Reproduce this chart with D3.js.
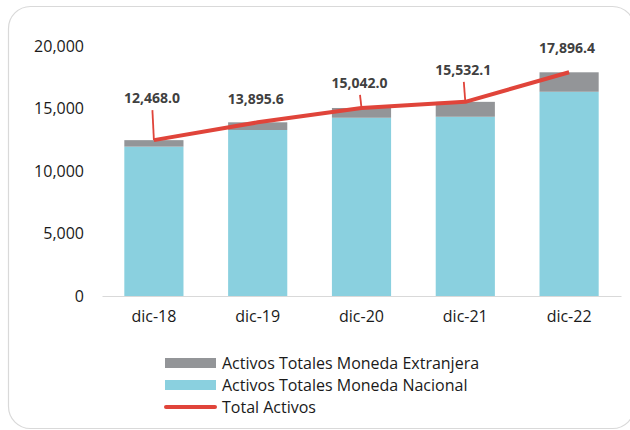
<!DOCTYPE html>
<html>
<head>
<meta charset="UTF-8">
<title>Activos Totales</title>
<script src="https://cdn.jsdelivr.net/npm/d3@7"></script>
<style type="text/css">
	body { margin:0; background:#fff; }
	text { font-family: "Open Sans", sans-serif; }
</style>
</head>
<body>
<script type="text/javascript">

// données
var categories = ['dic-18', 'dic-19', 'dic-20', 'dic-21', 'dic-22'];
var nacional   = [11950, 13280, 14260, 14340, 16340];
var extranjera = [518.0, 615.6, 782.0, 1192.1, 1556.4];
var total      = [12468.0, 13895.6, 15042.0, 15532.1, 17896.4];
var yTicks     = [0, 5000, 10000, 15000, 20000];
var legendItems = ['Activos Totales Moneda Extranjera', 'Activos Totales Moneda Nacional', 'Total Activos'];

// décalage des étiquettes au-dessus du point (px) et présence d'un trait de rappel
var labelLift = [42, 23, 25, 32, 24];
var leader    = [true, false, true, true, false];

var W = 630, H = 430,
 cNac = '#8ad0df', cExt = '#939598', cTot = '#e0443a';

var svg = d3.select('body').append('svg')
	.attr('width', W)
	.attr('height', H);

// cadre arrondi
svg.append('rect')
	.attr('x', 8.5).attr('y', 6.5)
	.attr('width', 626).attr('height', 422)
	.attr('rx', 22)
	.attr('fill', 'none')
	.attr('stroke', '#d9d9d9')
	.attr('stroke-width', 1.2);

var x = d3.scaleBand()
	.domain(categories)
	.range([102, 621])
	.paddingInner(0.43)
	.paddingOuter(0.215);

var y = d3.scaleLinear()
	.domain([0, 20000])
	.range([296, 46]);

// axe Y (texte seulement)
var yAxis = svg.append('g')
	.attr('transform', 'translate(90,0)')
	.call(d3.axisLeft(y).tickValues(yTicks).tickSize(0).tickPadding(6).tickFormat(d3.format(',')));
yAxis.select('.domain').remove();
yAxis.selectAll('text')
	.style('font-size', '16px')
	.attr('fill', '#1a1a1a');

// barres empilées
var stack = categories.map(function(c, i){ return {c:c, nac:nacional[i], ext:extranjera[i]}; });

svg.selectAll('.nac').data(stack).enter().append('rect')
	.attr('class', 'nac')
	.attr('x', function(d){ return x(d.c); })
	.attr('width', x.bandwidth())
	.attr('y', function(d){ return y(d.nac); })
	.attr('height', function(d){ return y(0) - y(d.nac); })
	.attr('fill', cNac);

svg.selectAll('.ext').data(stack).enter().append('rect')
	.attr('class', 'ext')
	.attr('x', function(d){ return x(d.c); })
	.attr('width', x.bandwidth())
	.attr('y', function(d){ return y(d.nac + d.ext); })
	.attr('height', function(d){ return y(d.nac) - y(d.nac + d.ext); })
	.attr('fill', cExt);

// axe X
var xAxis = svg.append('g')
	.attr('transform', 'translate(0,296)')
	.call(d3.axisBottom(x).tickSize(0).tickPadding(15));
xAxis.select('.domain').attr('stroke', '#d9d9d9').attr('stroke-width', 1.2);
xAxis.selectAll('text')
	.style('font-size', '16px')
	.attr('fill', '#1a1a1a');

// ligne du total
var cx = function(i){ return x(categories[i]) + x.bandwidth()/2; };
var line = d3.line()
	.x(function(d, i){ return cx(i); })
	.y(function(d){ return y(d); });

svg.append('path')
	.datum(total)
	.attr('d', line)
	.attr('fill', 'none')
	.attr('stroke', cTot)
	.attr('stroke-width', 4)
	.attr('stroke-linejoin', 'round');

// traits de rappel
svg.selectAll('.leader').data(total).enter().filter(function(d, i){ return leader[i]; })
	.append('line')
	.attr('class', 'leader')
	.attr('x1', function(d){ return cx(total.indexOf(d)) - 1.5; })
	.attr('y1', function(d){ return y(d) - labelLift[total.indexOf(d)] + 12; })
	.attr('x2', function(d){ return cx(total.indexOf(d)); })
	.attr('y2', function(d){ return y(d); })
	.attr('stroke', cTot)
	.attr('stroke-width', 1.8);

// étiquettes
svg.selectAll('.lab').data(total).enter().append('text')
	.attr('class', 'lab')
	.attr('x', function(d, i){ return cx(i) - 2; })
	.attr('y', function(d, i){ return y(d) - labelLift[i]; })
	.attr('dy', '0.35em')
	.attr('text-anchor', 'middle')
	.style('font-size', '14px')
	.style('font-weight', 'bold')
	.attr('fill', '#404040')
	.text(function(d){ return d3.format(',.1f')(d); });

// légende
var leg = svg.selectAll('.leg').data(legendItems).enter().append('g')
	.attr('class', 'leg')
	.attr('transform', function(d, i){ return 'translate(165,' + (363 + i*22) + ')'; });

leg.each(function(d, i){
	var g = d3.select(this);
	if (i < 2) {
		g.append('rect')
			.attr('x', 0).attr('y', -5)
			.attr('width', 51).attr('height', 10)
			.attr('fill', i == 0 ? cExt : cNac);
	} else {
		g.append('line')
			.attr('x1', 1).attr('x2', 50)
			.attr('stroke', cTot)
			.attr('stroke-width', 4)
			.attr('stroke-linecap', 'round');
	}
	g.append('text')
		.attr('x', 57)
		.attr('dy', '0.35em')
		.style('font-size', '16px')
		.attr('fill', '#1a1a1a')
		.text(d);
});

</script>
</body>
</html>
